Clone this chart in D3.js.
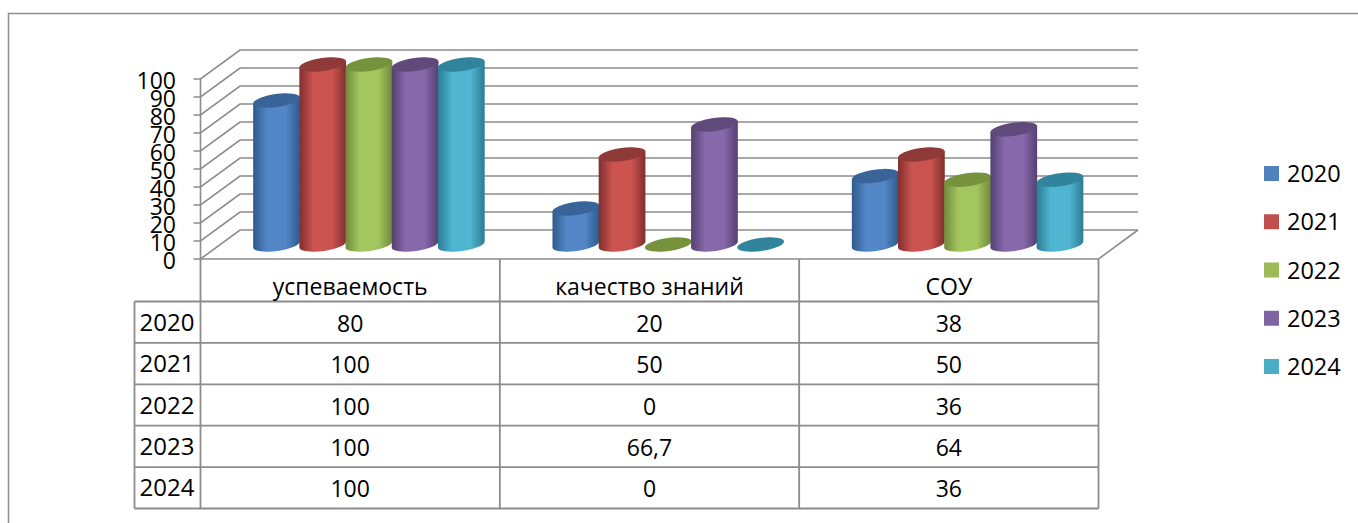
<!DOCTYPE html>
<html>
<head>
<meta charset="utf-8">
<script src="https://cdn.jsdelivr.net/npm/d3@7"></script>
<style>
  html, body { margin: 0; padding: 0; background: #fff; overflow: hidden; }
  text { font-family: "Open Sans", "Noto Sans", sans-serif; fill: #000; }
</style>
</head>
<body>
<div id="chart"></div>
<script>
// Data
const categories = ["успеваемость", "качество знаний", "СОУ"];
const years = ["2020", "2021", "2022", "2023", "2024"];
const values2020 = [80, 20, 38];
const values2021 = [100, 50, 50];
const values2022 = [100, 0, 36];
const values2023 = [100, 66.7, 64];
const values2024 = [100, 0, 36];
const yTicks = [0, 10, 20, 30, 40, 50, 60, 70, 80, 90, 100];
const colors = ["#4f81bd", "#c0504d", "#9bbb59", "#8064a2", "#4bacc6"];
const midColors = ["#5286c6", "#cb5451", "#a3c65e", "#8768ab", "#4fb5d0"];
const edgeColors = ["#2f5a8c", "#7f2f2d", "#6f8a3a", "#54406f", "#2c7c93"];
const topColors = ["#38649a", "#8f3a38", "#76923c", "#604a7b", "#31849b"];

const series = [values2020, values2021, values2022, values2023, values2024];

const width = 1358, height = 523;
const gridColor = "#8c8c8c";

// Depth of the fake 3D box
const depth = { x: 39.5, y: -29 };
const tilt = 8, ellipseRy = 6.5;

const svg = d3.select("#chart").append("svg").attr("width", width).attr("height", height);

// Outer frame, runs off the page on the right and at the bottom
svg.append("path")
    .attr("d", `M8.5,${height + 5}V13.5H${width + 5}`)
    .attr("fill", "none").attr("stroke", gridColor).attr("stroke-width", 1.5);

// Scales
const x0 = d3.scaleBand().domain(categories).range([200.5, 1098.5]);
const x1 = d3.scaleBand().domain(years).range([0, x0.bandwidth()]).paddingOuter(0.74).paddingInner(0);
const y = d3.scaleLinear().domain([0, 100]).range([259, 79]);

const rowY = d3.scaleBand().domain(years).range([301.5, 508.5]);

// Walls: tick, diagonal on the left wall, horizontal on the back wall
const walls = svg.append("g").attr("fill", "none").attr("stroke", gridColor).attr("stroke-width", 1.6);
yTicks.forEach(t => {
    const [xa, xb] = x0.range();
    walls.append("path")
        .attr("d", `M${xa - 7},${y(t)}H${xa}L${xa + depth.x},${y(t) + depth.y}H${xb + depth.x}`);
});
walls.append("line")
    .attr("x1", x0.range()[0]).attr("x2", x0.range()[0])
    .attr("y1", y(100)).attr("y2", y(0));
// Floor front edge and right side
walls.append("path")
    .attr("d", `M${x0.range()[0]},${y(0)}H${x0.range()[1]}L${x0.range()[1] + depth.x},${y(0) + depth.y}`);

// Y tick labels
svg.append("g").selectAll("text").data(yTicks).enter().append("text")
    .attr("x", 176)
    .attr("y", d => y(d) + 9.5)
    .attr("text-anchor", "end")
    .attr("font-size", 23)
    .text(d => d);

// Horizontal shading for the cylinders
const defs = svg.append("defs");
years.forEach((yr, i) => {
    const g = defs.append("linearGradient").attr("id", "cyl" + yr);
    g.append("stop").attr("offset", "0%").attr("stop-color", edgeColors[i]);
    g.append("stop").attr("offset", "30%").attr("stop-color", midColors[i]);
    g.append("stop").attr("offset", "70%").attr("stop-color", midColors[i]);
    g.append("stop").attr("offset", "100%").attr("stop-color", edgeColors[i]);
});

// Cylinders, standing in the middle of the floor depth
const rad = tilt * Math.PI / 180;
categories.forEach((cat, c) => {
    const g = svg.append("g");
    years.forEach((yr, s) => {
        const v = series[s][c];
        const rx = x1.bandwidth() / 2 + 0.5;
        const cx = x0(cat) + x1(yr) + x1.bandwidth() / 2 + depth.x / 2 - 1;
        const yTop = y(v) + depth.y / 2;
        const yBase = y(0) + depth.y / 2;
        const ex = rx * Math.cos(rad), ey = rx * Math.sin(rad);
        if (v > 0) {
            g.append("path")
                .attr("d", `M${cx - ex},${yTop + ey}L${cx - ex},${yBase + ey}` +
                    `A${rx},${ellipseRy} ${-tilt} 0 0 ${cx + ex},${yBase - ey}` +
                    `L${cx + ex},${yTop - ey}Z`)
                .attr("fill", `url(#cyl${yr})`);
        }
        g.append("ellipse")
            .attr("cx", cx).attr("cy", yTop)
            .attr("rx", rx).attr("ry", ellipseRy)
            .attr("transform", `rotate(${-tilt} ${cx} ${yTop})`)
            .attr("fill", topColors[s]);
    });
});

// Data table under the chart
const table = svg.append("g").attr("fill", "none").attr("stroke", gridColor).attr("stroke-width", 1.8);
const rowEdges = years.map(yr => rowY(yr)).concat(rowY.range()[1]);
const colEdges = categories.map(cat => x0(cat)).concat(x0.range()[1]);
const tableLeft = 134.5;
rowEdges.forEach(r => {
    table.append("line").attr("x1", tableLeft).attr("x2", x0.range()[1]).attr("y1", r).attr("y2", r);
});
colEdges.forEach(cx => {
    table.append("line").attr("x1", cx).attr("x2", cx).attr("y1", y(0)).attr("y2", rowEdges[rowEdges.length - 1]);
});
table.append("line").attr("x1", tableLeft).attr("x2", tableLeft)
    .attr("y1", rowEdges[0]).attr("y2", rowEdges[rowEdges.length - 1]);

// Category labels
svg.append("g").selectAll("text").data(categories).enter().append("text")
    .attr("x", d => x0(d) + x0.bandwidth() / 2)
    .attr("y", 295)
    .attr("text-anchor", "middle")
    .attr("font-size", 23)
    .text(d => d);

// Table cells
const fmt = v => String(v).replace(".", ",");
years.forEach((yr, s) => {
    const ty = rowY(yr) + rowY.bandwidth() / 2 + 8.5;
    svg.append("text")
        .attr("x", 167).attr("y", ty)
        .attr("text-anchor", "middle").attr("font-size", 24)
        .text(yr);
    categories.forEach((cat, c) => {
        svg.append("text")
            .attr("x", x0(cat) + x0.bandwidth() / 2).attr("y", ty + 1)
            .attr("text-anchor", "middle").attr("font-size", 23)
            .text(fmt(series[s][c]));
    });
});

// Legend
const legendY = d3.scalePoint().domain(years).range([173.5, 366.5]);
const legend = svg.append("g").selectAll("g").data(years).enter().append("g")
    .attr("transform", d => `translate(1264,${legendY(d)})`);
legend.append("rect")
    .attr("y", -7.5).attr("width", 15).attr("height", 15)
    .attr("fill", (d, i) => colors[i]);
legend.append("text")
    .attr("x", 23).attr("y", 8.5)
    .attr("font-size", 23.5)
    .text(d => d);
</script>
</body>
</html>
